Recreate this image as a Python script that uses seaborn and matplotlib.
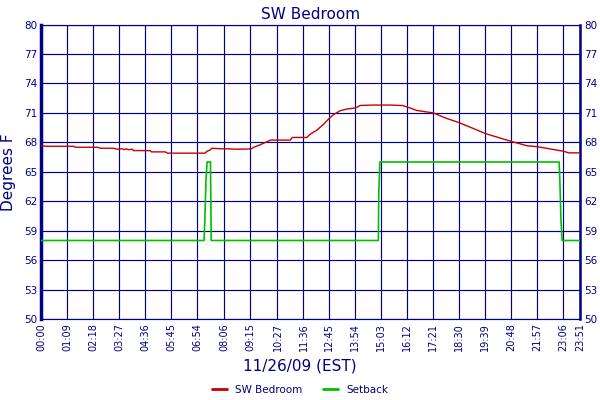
#!/usr/bin/env python3

"""SW Bedroom temperature vs setback for one day."""

import seaborn as sns
import pandas as pd
import matplotlib.pyplot as plt

# DATA (times in minutes after midnight, values in degrees F)
red_times = [0, 2, 11, 86, 90, 149, 157, 191, 202, 215, 220, 225, 230, 242, 244, 289, 292, 329,
             335, 435, 440, 447, 453, 475, 502, 518, 557, 564, 581, 599, 608, 661, 666, 705, 714,
             732, 749, 764, 776, 794, 812, 833, 847, 880, 927, 960, 972, 997, 1041, 1077, 1110,
             1148, 1179, 1219, 1248, 1289, 1317, 1351, 1386, 1400, 1431]
red_vals = [67.7, 67.66, 67.6, 67.6, 67.5, 67.5, 67.4, 67.4, 67.3, 67.35, 67.25, 67.35, 67.25, 67.3,
            67.16, 67.16, 67.03, 67.03, 66.9, 66.9, 67.1, 67.2, 67.4, 67.35, 67.33, 67.3, 67.33,
            67.5, 67.76, 68.06, 68.23, 68.23, 68.5, 68.5, 68.83, 69.26, 69.83, 70.43, 70.83, 71.23,
            71.4, 71.5, 71.76, 71.8, 71.8, 71.75, 71.6, 71.25, 71.0, 70.43, 70.0, 69.4, 68.9, 68.43,
            68.1, 67.66, 67.56, 67.33, 67.1, 66.93, 66.93]

green_times = [0, 432, 434, 437, 440, 449, 451, 895, 896, 899, 1375, 1377, 1380, 1383, 1431]
green_vals = [58, 58, 60, 64, 66, 66, 58, 58, 62.8, 66, 66, 64.1, 60, 58, 58]

tick_labels = ["00:00", "01:09", "02:18", "03:27", "04:36", "05:45", "06:54", "08:06", "09:15",
               "10:27", "11:36", "12:45", "13:54", "15:03", "16:12", "17:21", "18:30", "19:39",
               "20:48", "21:57", "23:06", "23:51"]
y_ticks = [50, 53, 56, 59, 62, 65, 68, 71, 74, 77, 80]

# STYLE
navy = "#000080"
sns.set_style("white")
plt.rcParams['font.family'] = ['DejaVu Sans']

red_df = pd.DataFrame({"t": red_times, "v": red_vals})
green_df = pd.DataFrame({"t": green_times, "v": green_vals})

fig = plt.figure(figsize=(6, 4), dpi=100)
ax = fig.add_axes([0.069, 0.2025, 0.898, 0.736])

sns.lineplot(data=red_df, x="t", y="v", ax=ax, color="#c80000", linewidth=1.0,
             estimator=None, label="SW Bedroom", zorder=3)
sns.lineplot(data=green_df, x="t", y="v", ax=ax, color="#00c000", linewidth=1.2,
             estimator=None, label="Setback", zorder=3)

tick_pos = [int(s[:2]) * 60 + int(s[3:]) for s in tick_labels]
ax.set_xlim(0, tick_pos[-1])
ax.set_ylim(50, 80)
ax.set_xticks(tick_pos)
ax.set_xticklabels(tick_labels, rotation=90, color=navy, fontsize=7)
ax.set_yticks(y_ticks)
ax.set_yticklabels([str(v) for v in y_ticks], color=navy, fontsize=7.5)
ax.tick_params(axis="both", length=0, pad=3)
ax.tick_params(axis="y", labelright=True)

ax.grid(True, color=navy, linewidth=0.85)
ax.set_axisbelow(True)
for side, lw in [("left", 2.5), ("right", 1.8), ("top", 0.85), ("bottom", 0.85)]:
    ax.spines[side].set_color(navy)
    ax.spines[side].set_linewidth(lw)
    ax.spines[side].set_visible(True)

ax.set_xlabel("")
ax.set_ylabel("Degrees F", color=navy, fontsize=11, labelpad=6)
ax.set_title("SW Bedroom", color=navy, fontsize=11, pad=4)
fig.text(0.5, 0.085, "11/26/09 (EST)", color=navy, fontsize=11, ha="center", va="center")

ax.get_legend().remove()
handles, labels = ax.get_legend_handles_labels()
leg = fig.legend(handles, labels, loc="center", bbox_to_anchor=(0.5, 0.025), ncol=2,
                 frameon=False, fontsize=7.5, handlelength=1.4, columnspacing=2.0)
for h in leg.get_lines():
    h.set_linewidth(2)
for t in leg.get_texts():
    t.set_color(navy)

plt.savefig("out.png", dpi=100)
